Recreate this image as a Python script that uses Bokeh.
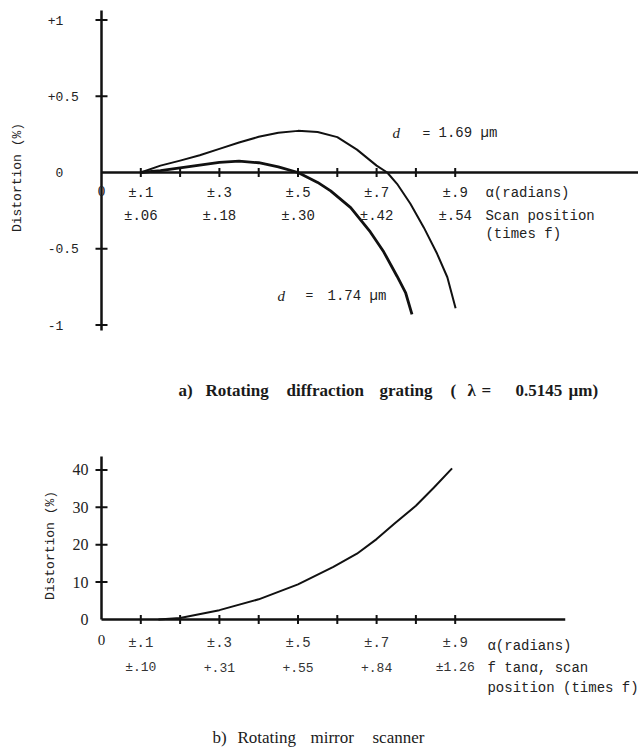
import math
from bokeh.plotting import figure
from bokeh.models import Range1d, Label, ColumnDataSource
from bokeh.layouts import column
from bokeh.embed import file_html
from bokeh.resources import INLINE
from bokeh.core.properties import value

# ---------------- data (a) rotating diffraction grating ----------------
alpha_ticks = [0.1, 0.2, 0.3, 0.4, 0.5, 0.6, 0.7, 0.8, 0.9]
alpha_label_pos = [0.1, 0.3, 0.5, 0.7, 0.9]
alpha_labels = ["±.1", "±.3", "±.5", "±.7", "±.9"]
scan_labels_a = ["±.06", "±.18", "±.30", "±.42", "±.54"]
ytick_a = [-1.0, -0.5, 0.5, 1.0]
ytick_labels_a = ["-1", "-0.5", "+0.5", "+1"]

alpha_169 = [0.10, 0.15, 0.20, 0.25, 0.30, 0.35, 0.40, 0.45, 0.50, 0.55, 0.60,
             0.65, 0.70, 0.727, 0.752, 0.786, 0.82, 0.854, 0.88, 0.901]
dist_169 = [0.0, 0.045, 0.078, 0.113, 0.155, 0.197, 0.234, 0.261, 0.273, 0.266, 0.232,
            0.15, 0.045, 0.0, -0.074, -0.205, -0.36, -0.533, -0.687, -0.89]

alpha_174 = [0.10, 0.15, 0.20, 0.25, 0.30, 0.35, 0.40, 0.45, 0.50, 0.55, 0.583,
             0.634, 0.684, 0.718, 0.752, 0.774, 0.79]
dist_174 = [0.0, 0.013, 0.03, 0.049, 0.066, 0.074, 0.064, 0.037, 0.0, -0.065, -0.12,
            -0.23, -0.39, -0.52, -0.68, -0.79, -0.93]

# ---------------- data (b) rotating mirror scanner ----------------
scan_labels_b = ["±.10", "+.31", "+.55", "+.84", "±1.26"]
ytick_b = [10, 20, 30, 40]
ytick_labels_b = ["0", "10", "20", "30", "40"]
ytick_label_vals_b = [0, 10, 20, 30, 40]
alpha_mirror = [0.145, 0.2, 0.3, 0.4, 0.5, 0.59, 0.65, 0.7, 0.745, 0.8, 0.846, 0.892]
dist_mirror = [0.0, 0.4, 2.5, 5.4, 9.4, 14.1, 17.6, 21.5, 25.6, 30.4, 35.3, 40.4]

# axis extents
xrange_all = (-0.257, 1.3664)
yaxis_a = (-1.036, 1.062)
xaxis_a_end = 1.3664
yaxis_b = (0.0, 43.6)
xaxis_b_end = 1.18

MONO = "Liberation Mono"
SERIF = "Liberation Serif"
INK = "#111111"
TXT = "#222222"

W = 638
H1 = 420
H2 = 328


def make_fig(h, y0, y1):
    p = figure(width=W, height=h, x_range=Range1d(*xrange_all), y_range=Range1d(y0, y1),
               output_backend="svg", toolbar_location=None, min_border=0,
               x_axis_location=None, y_axis_location=None)
    p.grid.visible = False
    p.outline_line_color = None
    p.background_fill_color = "white"
    p.border_fill_color = "white"
    return p


def add_text(p, x, y, txt, font=MONO, size="14px", align="left", style="normal",
             units="data", angle=0.0, color=TXT):
    p.add_layout(Label(x=x, y=y, x_units=units, y_units=units, text=txt,
                       text_font=font, text_font_size=size, text_align=align,
                       text_baseline="middle", text_font_style=style,
                       angle=angle, text_color=color))


# =============== figure (a) ===============
p1 = make_fig(H1, -1.6262, 1.1279)

p1.line([0, 0], list(yaxis_a), line_color=INK, line_width=2.5)
p1.line([0, xaxis_a_end], [0, 0], line_color=INK, line_width=2.5)
p1.dash(x=[0] * len(ytick_a), y=ytick_a, size=12, line_width=2, line_color=INK)
p1.dash(x=alpha_ticks, y=[0] * len(alpha_ticks), size=9, angle=math.pi / 2,
        line_width=2, line_color=INK)

p1.line(alpha_169, dist_169, line_color=INK, line_width=2, line_join="round")
p1.line(alpha_174, dist_174, line_color=INK, line_width=2.8, line_join="round")

src_a = ColumnDataSource(dict(x=alpha_label_pos, y=[0] * 5, t1=alpha_labels, t2=scan_labels_a))
p1.text(x="x", y="y", text="t1", source=src_a, y_offset=20, text_align="center",
        text_baseline="middle", text_font=value(MONO), text_font_size="14px", text_color=TXT)
p1.text(x="x", y="y", text="t2", source=src_a, y_offset=43, text_align="center",
        text_baseline="middle", text_font=value(MONO), text_font_size="14px", text_color=TXT)
src_ya = ColumnDataSource(dict(x=[-0.137] * 4, y=ytick_a, t=ytick_labels_a))
p1.text(x="x", y="y", text="t", source=src_ya, text_align="left", text_baseline="middle",
        text_font=value(MONO), text_font_size="13px", text_color=TXT)
p1.text(x=[-0.107], y=[0], text=["0"], text_align="center", text_baseline="middle",
        text_font=value(MONO), text_font_size="13px", text_color=TXT)
p1.text(x=[0], y=[0], text=["0"], y_offset=18, text_align="center", text_baseline="middle",
        text_font=value(SERIF), text_font_size="15px", text_color=TXT)
p1.text(x=[0.977, 0.977, 0.977], y=[0, 0, 0], text=["α(radians)", "Scan position", "(times f)"],
        y_offset=[20, 43, 61], text_align="left", text_baseline="middle",
        text_font=value(MONO), text_font_size="14px", text_color=TXT)

add_text(p1, 17, H1 - 177, "Distortion (%)", size="13px", align="center", units="screen",
         angle=math.pi / 2)

add_text(p1, 0.7405, 0.256, "d", font=SERIF, size="15px", style="italic")
add_text(p1, 0.817, 0.256, "=", size="13px")
add_text(p1, 0.8575, 0.256, "1.69 µm", size="14px")
add_text(p1, 0.448, -0.807, "d", font=SERIF, size="15px", style="italic")
add_text(p1, 0.519, -0.807, "=", size="13px")
add_text(p1, 0.575, -0.807, "1.74 µm", size="14px")

for word, px in [("a)", 178), ("Rotating", 205), ("diffraction", 286), ("grating", 379),
                 ("(", 450), ("λ", 467), ("=", 481), ("0.5145", 515), ("µm)", 568)]:
    add_text(p1, px, H1 - 390, word, font=SERIF, size="17px", style="bold",
             units="screen", color="#1a1a1a")

# =============== figure (b) ===============
p2 = make_fig(H2, -34.49, 53.21)

p2.line([0, 0], list(yaxis_b), line_color=INK, line_width=2.5)
p2.line([0, xaxis_b_end], [0, 0], line_color=INK, line_width=2.5)
p2.dash(x=[0] * len(ytick_b), y=ytick_b, size=12, line_width=2, line_color=INK)
p2.dash(x=alpha_ticks, y=[0] * len(alpha_ticks), size=9, angle=math.pi / 2,
        line_width=2, line_color=INK)

p2.line(alpha_mirror, dist_mirror, line_color=INK, line_width=2, line_join="round")

src_b = ColumnDataSource(dict(x=alpha_label_pos, y=[0] * 5, t1=alpha_labels, t2=scan_labels_b))
p2.text(x="x", y="y", text="t1", source=src_b, y_offset=23, text_align="center",
        text_baseline="middle", text_font=value(MONO), text_font_size="14px", text_color="#333333")
p2.text(x="x", y="y", text="t2", source=src_b, y_offset=48, text_align="center",
        text_baseline="middle", text_font=value(MONO), text_font_size="13px", text_color="#333333")
src_yb = ColumnDataSource(dict(x=[-0.033] * 5, y=ytick_label_vals_b, t=ytick_labels_b))
p2.text(x="x", y="y", text="t", source=src_yb, text_align="right", text_baseline="middle",
        text_font=value(SERIF), text_font_size="16px", text_color=TXT)
p2.text(x=[0], y=[0], text=["0"], y_offset=20, text_align="center", text_baseline="middle",
        text_font=value(SERIF), text_font_size="15px", text_color=TXT)
p2.text(x=[0.982, 0.982, 0.982], y=[0, 0, 0],
        text=["α(radians)", "f tanα, scan", "position (times f)"],
        y_offset=[26, 48, 68], text_align="left", text_baseline="middle",
        text_font=value(MONO), text_font_size="14px", text_color=TXT)

add_text(p2, 50, H2 - (545 - H1), "Distortion (%)", size="13px", align="center", units="screen",
         angle=math.pi / 2)

for word, px in [("b)", 212), ("Rotating", 237), ("mirror", 310), ("scanner", 372)]:
    add_text(p2, px, H2 - (737 - H1), word, font=SERIF, size="17px",
             units="screen", color="#1a1a1a")

layout = column(p1, p2, spacing=0)
open("out.html", "w").write(file_html(layout, INLINE))
